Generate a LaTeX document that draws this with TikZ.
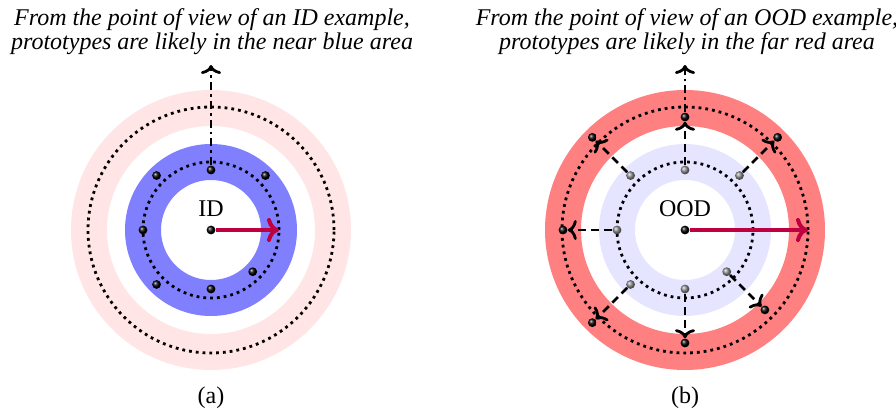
\documentclass[tikz,border=0pt]{standalone}
\usepackage{fontspec}
\setmainfont{Liberation Serif}
\usetikzlibrary{arrows.meta}

\begin{document}
\begin{tikzpicture}[
  x=0.5pt, y=0.5pt,
  proto/.style={circle, inner sep=0pt, minimum size=4.4pt, ball color=black},
  faded/.style={circle, inner sep=0pt, minimum size=4.4pt, ball color=black!45},
  ring/.style={line width=18pt},
  orbit/.style={line width=1.4pt, dotted},
  push/.style={line width=1.4pt, dash pattern=on 4pt off 2.5pt, -{Computer Modern Rightarrow[length=4.5pt,width=10pt]}},
  look/.style={line width=1.4pt, dash pattern=on 4pt off 2pt on 1.4pt off 2pt, -{Computer Modern Rightarrow[length=4.5pt,width=10pt]}},
  reach/.style={purple, line width=2pt, -{Computer Modern Rightarrow[length=6pt,width=12pt]}},
  headline/.style={align=center, font=\fontsize{12}{12}\selectfont\itshape},
  tag/.style={font=\fontsize{12}{14}\selectfont}
]
\useasboundingbox (0,0) rectangle (896,408);

\coordinate (ca) at (211,178);
\coordinate (cb) at (685,178);

\draw[ring, red!10] (ca) circle (122);
\draw[ring, blue!50] (ca) circle (68);
\draw[orbit] (ca) circle (68);
\draw[orbit] (ca) circle (123);

\draw[ring, red!50] (cb) circle (122);
\draw[ring, blue!10] (cb) circle (68);
\draw[orbit] (cb) circle (68);
\draw[orbit] (cb) circle (123);

\node[headline] (qa) at (212,376) {From the point of view of an ID example,\\prototypes are likely in the near blue area};
\node[headline] (qb) at (687,376) {From the point of view of an OOD example,\\prototypes are likely in the far red area};
\node[tag, anchor=base] (capa) at (211,5) {(a)};
\node[tag, anchor=base] (capb) at (685,5) {(b)};
\node[tag] (ida) at (211,199) {ID};
\node[tag] (idb) at (685,199) {OOD};

\node[proto] (a0) at (ca) {};
\node[proto] (a1) at ([shift={(90:60)}]ca) {};
\node[proto] (a2) at ([shift={(45:77)}]ca) {};
\node[proto] (a3) at ([shift={(135:77)}]ca) {};
\node[proto] (a4) at ([shift={(180:68)}]ca) {};
\node[proto] (a5) at ([shift={(225:77)}]ca) {};
\node[proto] (a6) at ([shift={(270:59)}]ca) {};
\node[proto] (a7) at ([shift={(315:59)}]ca) {};
\coordinate (ea) at ([shift={(0:68)}]ca);
\coordinate (va) at ([shift={(90:165)}]ca);

\node[proto] (b0) at (cb) {};
\node[faded] (b1) at ([shift={(90:60)}]cb) {};
\node[faded] (b2) at ([shift={(45:77)}]cb) {};
\node[faded] (b3) at ([shift={(135:77)}]cb) {};
\node[faded] (b4) at ([shift={(180:68)}]cb) {};
\node[faded] (b5) at ([shift={(225:77)}]cb) {};
\node[faded] (b6) at ([shift={(270:59)}]cb) {};
\node[faded] (b7) at ([shift={(315:59)}]cb) {};
\node[proto] (o1) at ([shift={(90:113)}]cb) {};
\node[proto] (o2) at ([shift={(45:131)}]cb) {};
\node[proto] (o3) at ([shift={(135:131)}]cb) {};
\node[proto] (o4) at ([shift={(180:122)}]cb) {};
\node[proto] (o5) at ([shift={(225:131)}]cb) {};
\node[proto] (o6) at ([shift={(270:113)}]cb) {};
\node[proto] (o7) at ([shift={(315:113)}]cb) {};
\coordinate (eb) at ([shift={(0:123)}]cb);
\coordinate (vb) at ([shift={(90:165)}]cb);

\draw[look] (a1) -- (va);
\draw[reach] (a0) -- (ea);

\draw[push] (b1) -- (o1);
\draw[push] (b2) -- (o2);
\draw[push] (b3) -- (o3);
\draw[push] (b4) -- (o4);
\draw[push] (b5) -- (o5);
\draw[push] (b6) -- (o6);
\draw[push] (b7) -- (o7);
\draw[look] (o1) -- (vb);
\draw[reach] (b0) -- (eb);
\end{tikzpicture}
\end{document}
